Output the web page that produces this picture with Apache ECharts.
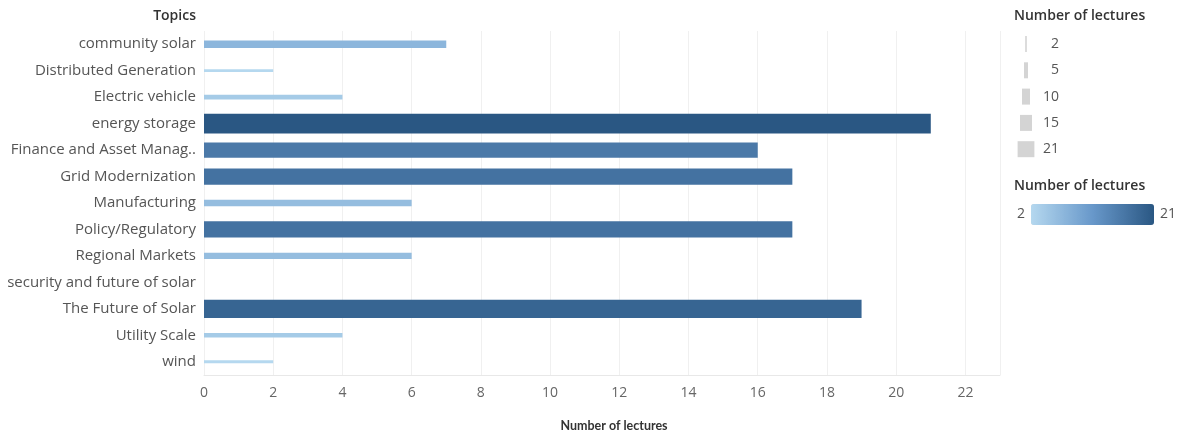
<!DOCTYPE html>
<html>
<head>
<meta charset="utf-8">
<script src="https://cdn.jsdelivr.net/npm/echarts@6/dist/echarts.min.js"></script>
<style>
  html, body { margin: 0; padding: 0; background: #fff; }
  #chart { width: 1183px; height: 436px; }
</style>
</head>
<body>
<div id="chart"></div>
<script>
const topics = [
  "community solar", "Distributed Generation", "Electric vehicle", "energy storage",
  "Finance and Asset Manag..", "Grid Modernization", "Manufacturing", "Policy/Regulatory",
  "Regional Markets", "security and future of solar", "The Future of Solar",
  "Utility Scale", "wind"
];
const lectures = [7, 2, 4, 21, 16, 17, 6, 17, 6, 0, 19, 4, 2];
const xTicks = [0, 2, 4, 6, 8, 10, 12, 14, 16, 18, 20, 22];
const sizeLegend = [2, 5, 10, 15, 21];

const FONT = "Open Sans";
const chart = echarts.init(document.getElementById("chart"));

// bar thickness follows the value (size encoding)
const thick = v => (v > 0 ? 1 + v * 0.9 : 0);

const legendGraphics = [
  {
    type: "text", left: 1014, top: 9,
    style: { text: "Number of lectures", font: "600 14px " + FONT, fill: "#333" }
  },
  {
    type: "text", left: 1014, top: 179,
    style: { text: "Number of lectures", font: "600 14px " + FONT, fill: "#333" }
  },
  {
    type: "text", right: 1183 - 196, top: 9,
    style: { text: "Topics", font: "600 14px " + FONT, fill: "#333" }
  }
];
sizeLegend.forEach((v, k) => {
  const cy = 44 + k * 26.3;
  const w = Math.max(1.5, v * 0.8);
  legendGraphics.push({
    type: "rect",
    shape: { x: 1026 - w / 2, y: cy - 8, width: w, height: 16 },
    style: { fill: "#d4d4d4" }
  });
  legendGraphics.push({
    type: "text",
    x: 1059, y: cy,
    style: { text: String(v), font: "14px " + FONT, fill: "#555", align: "right", verticalAlign: "middle" }
  });
});

chart.setOption({
  animation: false,
  grid: { left: 204, right: 183, top: 31, bottom: 61, outerBoundsMode: "none" },
  xAxis: {
    type: "value",
    min: 0,
    max: 23,
    interval: 2,
    name: "Number of lectures",
    nameLocation: "middle",
    nameGap: 44,
    nameTextStyle: {
      fontFamily: "Lato", fontSize: 12.5, fontWeight: "bold", color: "#333",
      padding: [0, 0, 0, 24]
    },
    axisLine: { show: true, lineStyle: { color: "#e8e8e8" } },
    axisTick: { show: false },
    axisLabel: {
      fontFamily: FONT, fontSize: 14, color: "#666", margin: 11,
      formatter: v => (xTicks.indexOf(v) >= 0 ? String(v) : "")
    },
    splitLine: { show: true, lineStyle: { color: "#f0f0f0" } }
  },
  yAxis: {
    type: "category",
    data: topics,
    inverse: true,
    axisLine: { show: false },
    axisTick: { show: false },
    axisLabel: { fontFamily: FONT, fontSize: 15, color: "#555", margin: 8 }
  },
  visualMap: {
    type: "continuous",
    min: 2,
    max: 21,
    dimension: 0,
    seriesIndex: 0,
    orient: "horizontal",
    left: 1002,
    top: 189,
    itemWidth: 21,
    itemHeight: 123,
    text: ["21", "2"],
    textGap: 6,
    calculable: false,
    hoverLink: false,
    textStyle: { fontFamily: FONT, fontSize: 14, color: "#555" },
    inRange: { color: ["#b5d8ef", "#6898ca", "#2a5783"] }
  },
  graphic: legendGraphics,
  series: [{
    type: "custom",
    data: lectures.map((v, i) => [v, i]),
    encode: { x: 0, y: 1 },
    renderItem: function (params, api) {
      const v = api.value(0);
      const i = api.value(1);
      const start = api.coord([0, i]);
      const end = api.coord([v, i]);
      const h = thick(v);
      return {
        type: "rect",
        shape: { x: start[0], y: start[1] - h / 2, width: end[0] - start[0], height: h },
        style: { fill: api.visual("color") }
      };
    }
  }]
});
</script>
</body>
</html>
